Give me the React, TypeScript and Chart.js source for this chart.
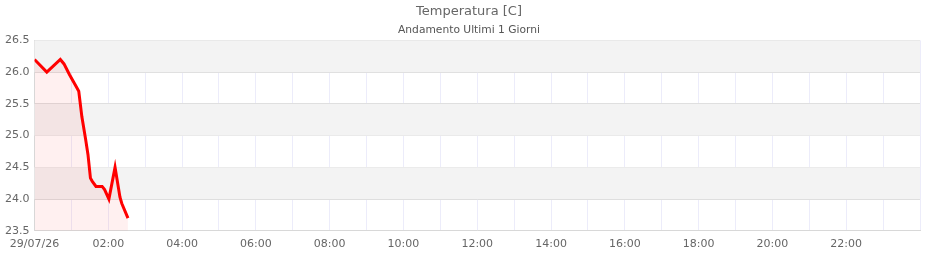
import React, { useEffect, useRef } from "react";
import { Chart, registerables } from "chart.js";
Chart.register(...registerables);

const times = ["00:00","00:20","00:42","00:48","00:57","01:08","01:12","01:17","01:23","01:27","01:31","01:34","01:40","01:50","01:54","02:01","02:11","02:19","02:22","02:32"];
const temps = [26.2,26.0,26.2,26.13,25.96,25.77,25.7,25.3,24.95,24.7,24.33,24.28,24.2,24.2,24.15,24.0,24.5,24.03,23.93,23.7];
const firstTickLabel = "29/07/26";
const titleText = "Temperatura [C]";
const subtitleText = "Andamento Ultimi 1 Giorni";
const yMin = 23.5;
const yMax = 26.5;
const yStep = 0.5;

const toMin = (s: string) => { const [h, m] = s.split(":").map(Number); return h * 60 + m; };

const bandPlugin = {
  id: "bands",
  beforeDatasetsDraw(chart: any) {
    const { ctx, chartArea, scales } = chart;
    const y = scales.y;
    ctx.save();
    ctx.fillStyle = "#f3f3f3";
    let i = 0;
    for (let v = yMax; v > yMin + 1e-9; v -= yStep, i++) {
      if (i % 2 === 0) {
        const top = y.getPixelForValue(v);
        const bot = y.getPixelForValue(v - yStep);
        ctx.fillRect(chartArea.left, top, chartArea.right - chartArea.left, bot - top);
      }
    }
    ctx.restore();
  },
};

export default function App() {
  const ref = useRef<HTMLCanvasElement>(null);
  useEffect(() => {
    const data = times.map((t, i) => ({ x: toMin(t), y: temps[i] }));
    const chart = new Chart(ref.current!, {
      type: "line",
      data: {
        datasets: [{
          data,
          borderColor: "#ff0000",
          borderWidth: 3,
          backgroundColor: "rgba(255,0,0,0.06)",
          fill: "start",
          pointRadius: 0,
          tension: 0,
        }],
      },
      options: {
        animation: false,
        responsive: false,
        maintainAspectRatio: false,
        layout: { padding: { left: 0, right: 2, top: 2, bottom: 0 } },
        plugins: {
          legend: { display: false },
          tooltip: { enabled: false },
          title: { display: true, text: titleText, color: "#666", font: { family: "DejaVu Sans", size: 13, weight: "normal" }, padding: { top: 2, bottom: 4 } },
          subtitle: { display: true, text: subtitleText, color: "#555", font: { family: "DejaVu Sans", size: 10.7 }, padding: { top: 0, bottom: 4 } },
        },
        scales: {
          x: {
            type: "linear",
            min: 0,
            max: 1440,
            ticks: {
              stepSize: 60,
              autoSkip: false,
              maxRotation: 0,
              padding: 7,
              color: "#666",
              font: { family: "DejaVu Sans", size: 11 },
              callback: (v: any) => {
                const m = Number(v);
                if (m === 0) return firstTickLabel;
                if (m >= 1440 || (m / 60) % 2 !== 0) return "";
                const h = m / 60;
                return (h < 10 ? "0" : "") + h + ":00";
              },
            },
            grid: { color: "#ececfa", drawTicks: false },
            border: { color: "#d8d8d8" },
          },
          y: {
            min: yMin,
            max: yMax,
            ticks: { stepSize: yStep, color: "#666", font: { family: "DejaVu Sans", size: 11 }, padding: 5, callback: (v: any) => Number(v).toFixed(1) },
            grid: { color: "#dddddd", drawTicks: false },
            border: { color: "#d8d8d8" },
          },
          y2: {
            position: "right",
            display: true,
            min: yMin,
            max: yMax,
            ticks: { display: false },
            grid: { drawOnChartArea: false, drawTicks: false },
            border: { display: false },
            afterFit: (s: any) => { s.width = 18; },
          },
        },
      },
      plugins: [bandPlugin],
    });
    return () => chart.destroy();
  }, []);
  return (
    <div style={{ position: "absolute", left: 0, top: 0, width: 940, height: 260 }}>
      <canvas ref={ref} width={940} height={258} />
    </div>
  );
}
